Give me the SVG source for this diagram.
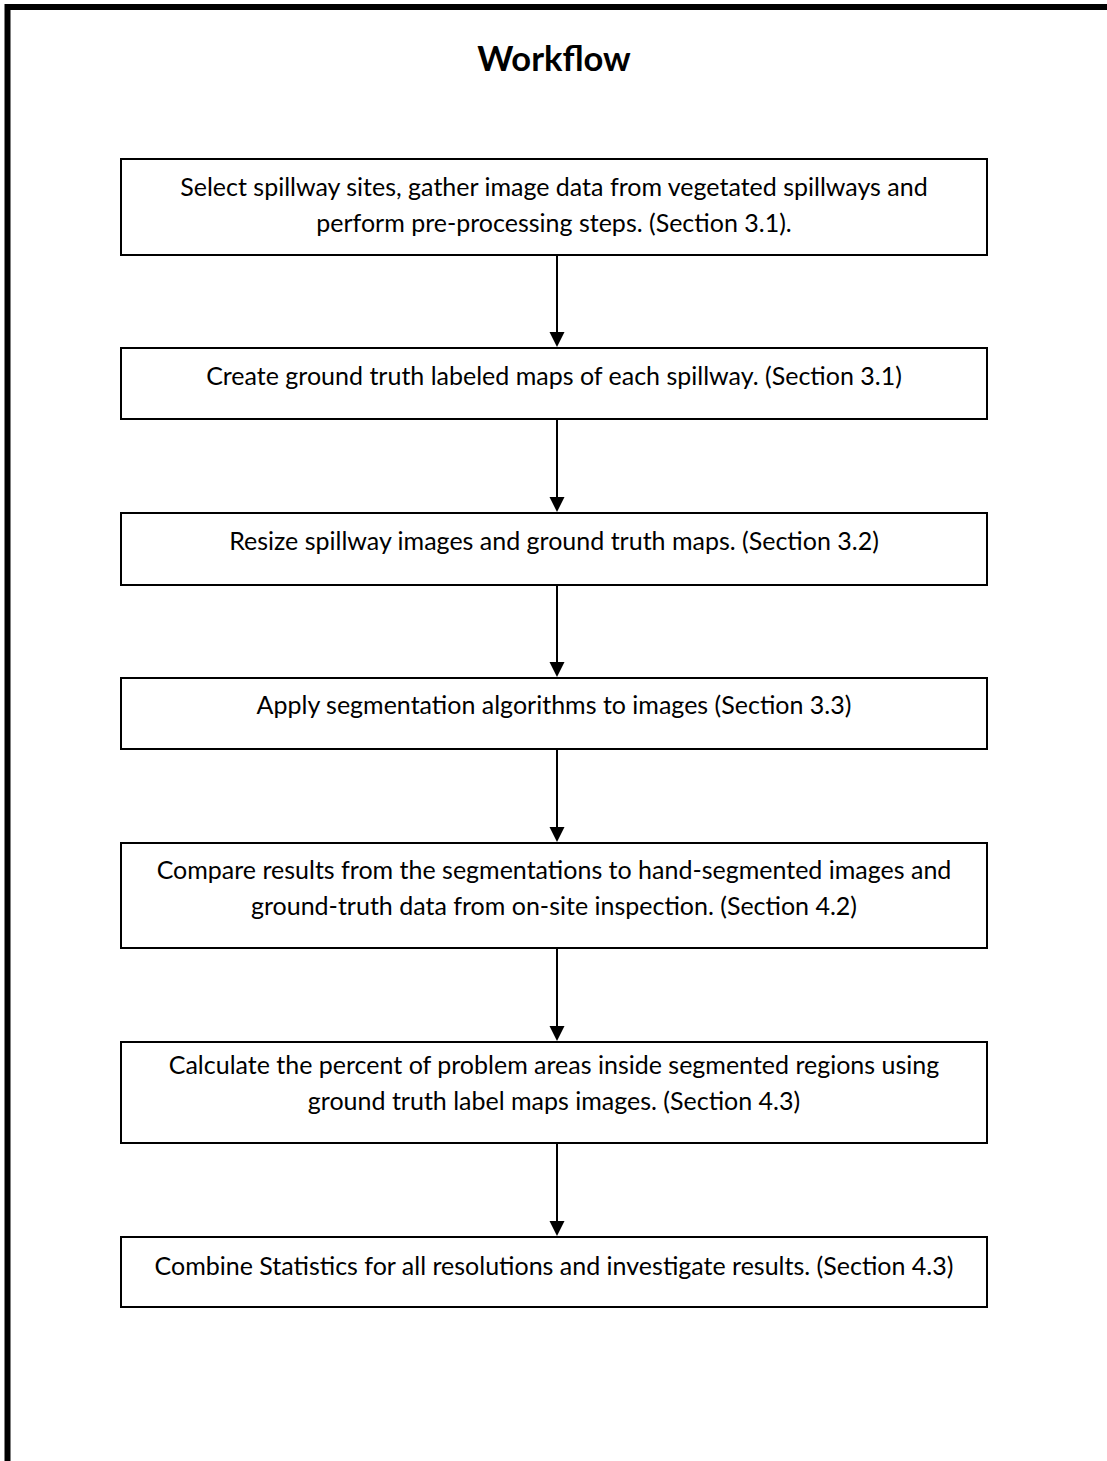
<svg xmlns="http://www.w3.org/2000/svg" width="1107" height="1461" viewBox="0 0 1107 1461">
<style>
.box{fill:#fff;stroke:#000;stroke-width:2}
.t{font-family:Lato,"Liberation Sans",sans-serif;font-size:25px;fill:#000;text-anchor:middle}
.title{font-family:Lato,"Liberation Sans",sans-serif;font-size:34.5px;font-weight:bold;fill:#000;text-anchor:middle}
.ln{stroke:#000;stroke-width:2;fill:none}
</style>
<rect width="1107" height="1461" fill="#fff"/>
<path d="M7.5,1461 V7 H1107" fill="none" stroke="#000" stroke-width="6"/>
<text class="title" x="554" y="71">Workflow</text>
<g id="connectors">
<path class="ln" d="M557,256 V340"/>
<polygon points="549.5,332 564.5,332 557,347"/>
<path class="ln" d="M557,419 V505"/>
<polygon points="549.5,497 564.5,497 557,512"/>
<path class="ln" d="M557,585 V670"/>
<polygon points="549.5,662 564.5,662 557,677"/>
<path class="ln" d="M557,749 V835"/>
<polygon points="549.5,827 564.5,827 557,842"/>
<path class="ln" d="M557,948 V1034"/>
<polygon points="549.5,1026 564.5,1026 557,1041"/>
<path class="ln" d="M557,1143 V1229"/>
<polygon points="549.5,1221 564.5,1221 557,1236"/>
</g>
<g id="n1">
<rect class="box" x="121" y="159" width="866" height="96"/>
<text class="t" x="554" y="196">Select spillway sites, gather image data from vegetated spillways and</text>
<text class="t" x="554" y="232">perform pre-processing steps. (Section 3.1).</text>
</g>
<g id="n2">
<rect class="box" x="121" y="348" width="866" height="71"/>
<text class="t" x="554" y="385">Create ground truth labeled maps of each spillway. (Section 3.1)</text>
</g>
<g id="n3">
<rect class="box" x="121" y="513" width="866" height="72"/>
<text class="t" x="554" y="550">Resize spillway images and ground truth maps. (Section 3.2)</text>
</g>
<g id="n4">
<rect class="box" x="121" y="678" width="866" height="71"/>
<text class="t" x="554" y="714">Apply segmentation algorithms to images (Section 3.3)</text>
</g>
<g id="n5">
<rect class="box" x="121" y="843" width="866" height="105"/>
<text class="t" x="554" y="879">Compare results from the segmentations to hand-segmented images and</text>
<text class="t" x="554" y="915">ground-truth data from on-site inspection. (Section 4.2)</text>
</g>
<g id="n6">
<rect class="box" x="121" y="1042" width="866" height="101"/>
<text class="t" x="554" y="1074">Calculate the percent of problem areas inside segmented regions using</text>
<text class="t" x="554" y="1110">ground truth label maps images. (Section 4.3)</text>
</g>
<g id="n7">
<rect class="box" x="121" y="1237" width="866" height="70"/>
<text class="t" x="554" y="1275">Combine Statistics for all resolutions and investigate results. (Section 4.3)</text>
</g>
</svg>
